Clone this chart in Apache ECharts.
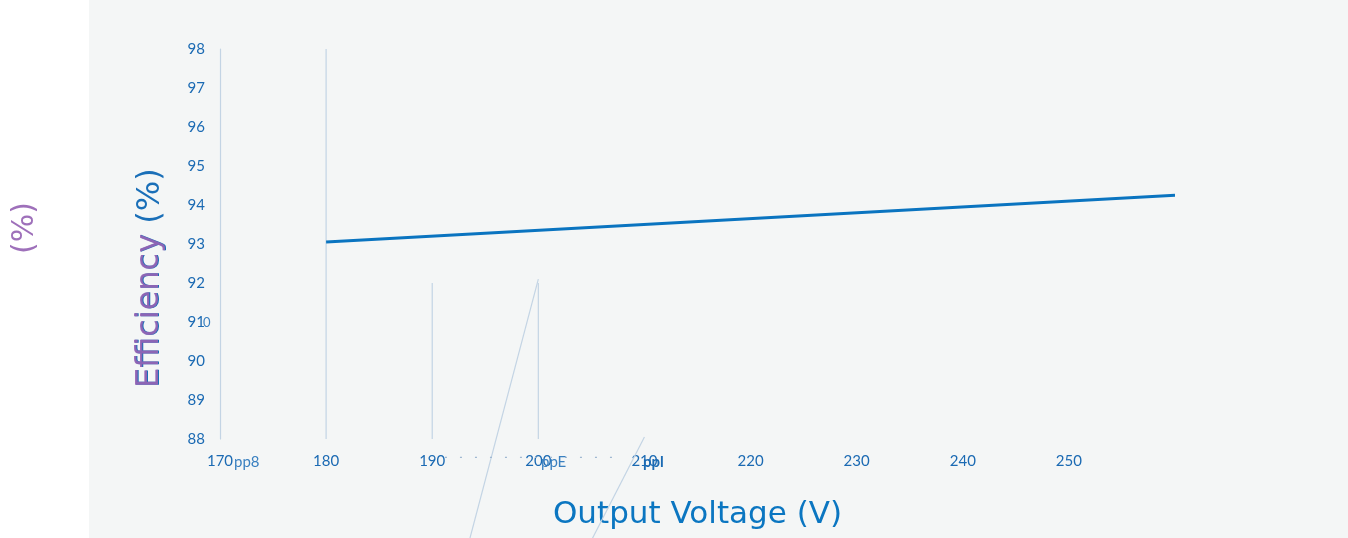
<!DOCTYPE html>
<html>
<head>
<meta charset="utf-8">
<script src="https://cdn.jsdelivr.net/npm/echarts@6/dist/echarts.min.js"></script>
<style>
html,body{margin:0;padding:0;background:#ffffff;}
#bg{position:absolute;left:89px;top:0;width:1259px;height:538px;background:#f4f6f6;}
#chart{position:absolute;left:0;top:0;width:1348px;height:538px;}
</style>
</head>
<body>
<div id="bg"></div>
<div id="chart"></div>
<script>
// ---- data ----
const xTicks = [170, 180, 190, 200, 210, 220, 230, 240, 250, 260];
const yTicks = [88, 89, 90, 91, 92, 93, 94, 95, 96, 97, 98];
const voltage = [180, 260];
const efficiency = [93.05, 94.25];
// stray guide strokes seen in the picture (data units)
const guide180 = [[180, 88], [180, 98]];
const guide190 = [[190, 88], [190, 92]];
const guide200 = [[200, 88], [200, 92]];
const slashA = [[200, 92.1], [193.5, 85.4]];
const slashB = [[210, 88.05], [205, 85.4]];
const dotted = [[191.2, 87.53], [208, 87.53]];
const xTitle = 'Output Voltage (V)';
const yTitle = 'Efficiency (%)';

const chart = echarts.init(document.getElementById('chart'));
const guideStyle = {color: '#c3d4e4', width: 1.2};
function guide(data, extra) {
  return {type: 'line', data: data, symbol: 'none', silent: true, clip: false,
    lineStyle: Object.assign({}, guideStyle, extra || {}), z: 1};
}
chart.setOption({
  backgroundColor: 'transparent',
  animation: false,
  grid: {left: 220, right: 173, top: 49, bottom: 99},
  xAxis: {
    type: 'value', min: xTicks[0], max: xTicks[xTicks.length - 1], interval: 10,
    axisLine: {show: false}, axisTick: {show: false}, splitLine: {show: false},
    axisLabel: {show: true, margin: 15, color: '#1b6ab3', fontSize: 15, fontFamily: 'Lato',
      showMaxLabel: false},
    name: xTitle, nameLocation: 'middle', nameGap: 60,
    nameTextStyle: {color: '#0b76c1', fontSize: 31, fontFamily: 'DejaVu Sans'}
  },
  yAxis: {
    type: 'value', min: yTicks[0], max: yTicks[yTicks.length - 1], interval: 1,
    axisLine: {show: true, lineStyle: {color: '#c3d4e4', width: 1.2}},
    axisTick: {show: false}, splitLine: {show: false},
    axisLabel: {margin: 15, color: '#1b6ab3', fontSize: 15, fontFamily: 'Lato'}
  },
  graphic: [
    {type: 'text', x: 151, y: 388, rotation: Math.PI / 2, z: 5,
      style: {text: yTitle, fill: '#1a6fb8', font: '32px "DejaVu Sans"', textAlign: 'left', textVerticalAlign: 'middle'}},
    {type: 'text', x: 150, y: 388, rotation: Math.PI / 2, z: 6,
      style: {text: 'Efficiency', fill: 'rgba(150,100,180,0.92)', font: '32px "DejaVu Sans"', textAlign: 'left', textVerticalAlign: 'middle'}},
    {type: 'text', x: 25, y: 254, rotation: Math.PI / 2, z: 6,
      style: {text: '(%)', fill: 'rgba(150,100,180,0.92)', font: '30px "DejaVu Sans"', textAlign: 'left', textVerticalAlign: 'middle'}},
    {type: 'text', x: 234, y: 462, z: 6,
      style: {text: 'pp8', fill: '#3a80c0', font: '15px Lato', textAlign: 'left', textVerticalAlign: 'middle'}},
    {type: 'text', x: 541, y: 462, z: 6,
      style: {text: 'ppE', fill: '#3a80c0', font: '15px Lato', textAlign: 'left', textVerticalAlign: 'middle'}},
    {type: 'text', x: 643, y: 462, z: 6,
      style: {text: 'ppl', fill: '#1b6ab3', font: 'bold 15px Lato', textAlign: 'left', textVerticalAlign: 'middle'}},
    {type: 'text', x: 203, y: 323, z: 6,
      style: {text: '0', fill: '#3a80c0', font: '13px Lato', textAlign: 'left', textVerticalAlign: 'middle'}}
  ],
  series: [
    guide(guide180), guide(guide190), guide(guide200), guide(slashA), guide(slashB),
    guide(dotted, {type: [2, 13], color: '#9fb8d2', width: 1.2}),
    {type: 'line', data: voltage.map((v, i) => [v, efficiency[i]]), symbol: 'none',
      lineStyle: {color: '#0a74c0', width: 3}, z: 3}
  ]
});
</script>
</body>
</html>
